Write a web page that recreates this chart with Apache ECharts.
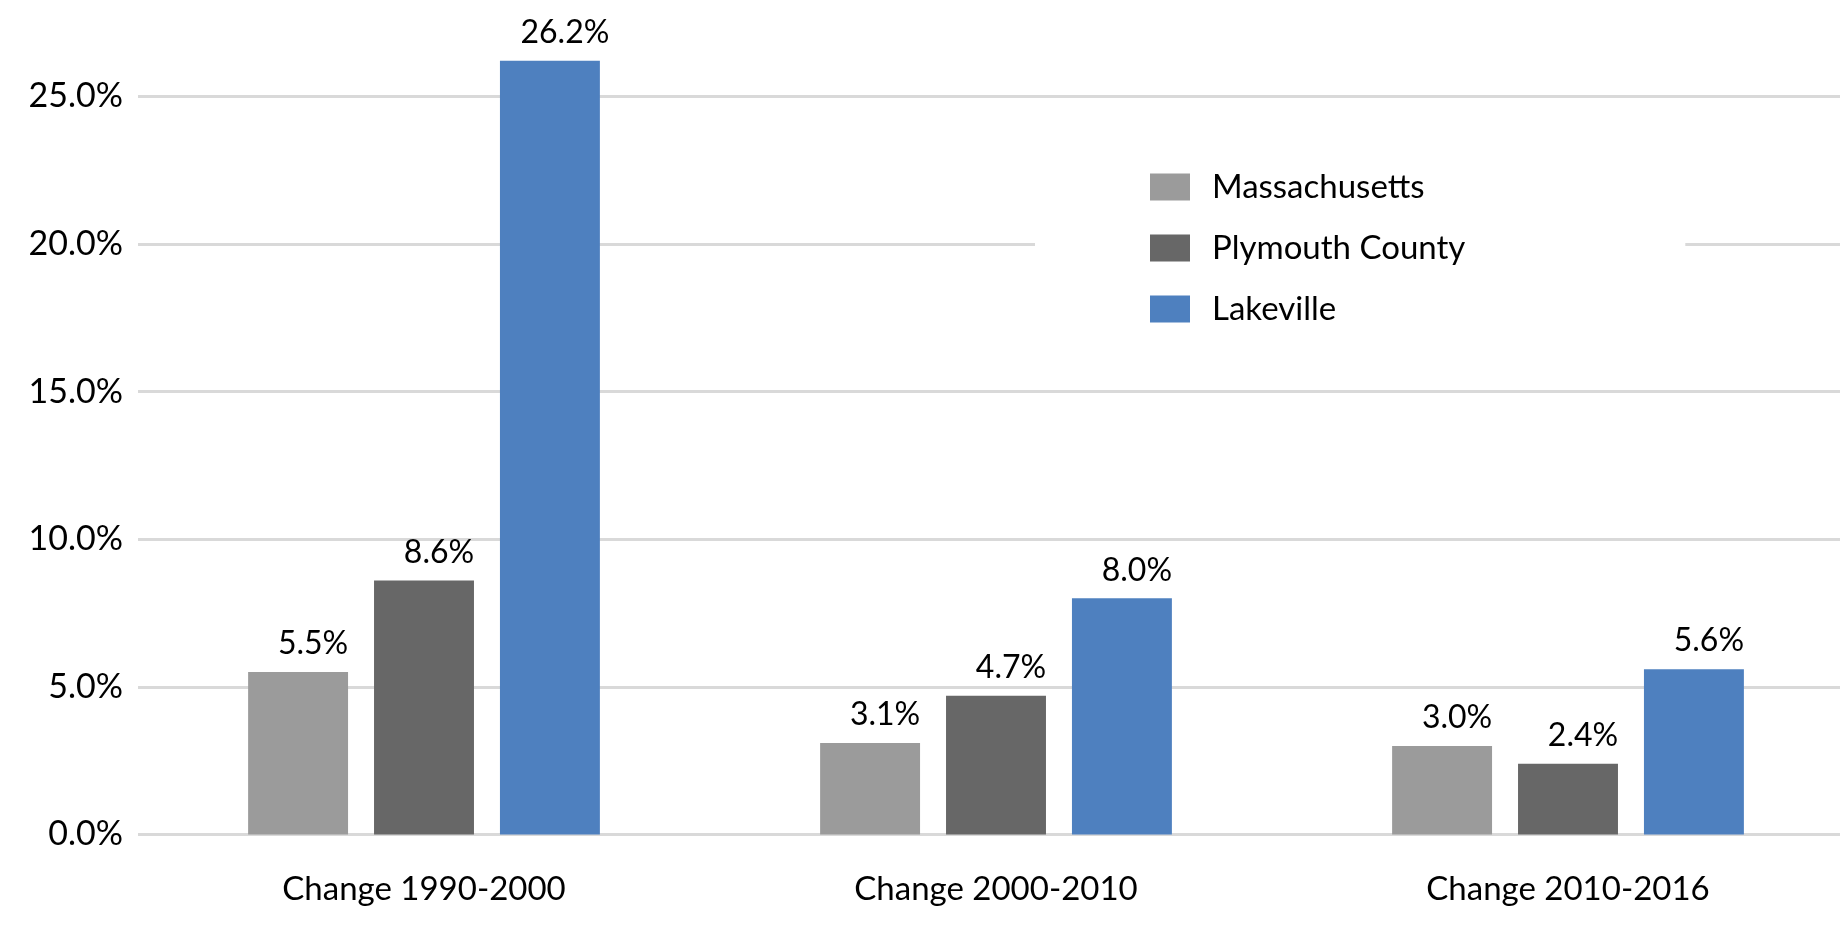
<!DOCTYPE html>
<html>
<head>
<meta charset="utf-8">
<title>Population change</title>
<script src="https://cdn.jsdelivr.net/npm/echarts@6/dist/echarts.min.js"></script>
<style>
	html, body {
		margin: 0;
		padding: 0;
		background: #fff;
	}
	#chart {
		width: 1840px;
		height: 930px;
	}
</style>
</head>
<body>
<div id="chart"></div>
<script>
	// categories and series (percent change)
	var categories = ['Change 1990-2000', 'Change 2000-2010', 'Change 2010-2016'];
	var massachusetts = [5.5, 3.1, 3.0];
	var plymouthCounty = [8.6, 4.7, 2.4];
	var lakeville = [26.2, 8.0, 5.6];
	var seriesNames = ['Massachusetts', 'Plymouth County', 'Lakeville'];
	var yTicks = [0, 5, 10, 15, 20, 25];

	var fontColor = '#000';
	var fontFamily = 'Lato';

	function barSeries(name, data) {
		return {
			name: name,
			type: 'bar',
			barGap: '26%',
			barCategoryGap: '38.5%',
			data: data,
			label: {
				show: true,
				position: 'top',
				distance: 12,
				offset: [15, 0],
				color: fontColor,
				fontFamily: fontFamily,
				fontSize: 32,
				formatter: function (p) {
					return p.value.toFixed(1) + '%';
				}
			}
		};
	}

	var myChart = echarts.init(document.getElementById('chart'));
	myChart.setOption({
		animation: false,
		color: ['#9b9b9b', '#676767', '#4e80bf'],
		textStyle: {
			fontFamily: fontFamily
		},
		grid: {
			left: 138,
			right: -14,
			top: 834.5 - 27 * 29.53,
			bottom: 930 - 834.5,
			outerBoundsMode: 'none'
		},
		legend: {
			orient: 'vertical',
			left: 1035,
			top: 127,
			backgroundColor: '#fff',
			padding: [40, 220, 40, 115],
			itemWidth: 40,
			itemHeight: 27,
			itemGap: 21,
			icon: 'rect',
			textStyle: {
				color: fontColor,
				fontSize: 33,
				lineHeight: 40,
				padding: [0, 0, 0, 17]
			},
			data: seriesNames
		},
		xAxis: {
			type: 'category',
			data: categories,
			axisLine: { show: false },
			axisTick: { show: false },
			axisLabel: {
				color: fontColor,
				fontSize: 33,
				margin: 38
			}
		},
		yAxis: {
			type: 'value',
			min: yTicks[0],
			max: 27,
			interval: yTicks[1] - yTicks[0],
			axisLine: { show: false },
			axisTick: { show: false },
			axisLabel: {
				color: fontColor,
				fontSize: 34,
				margin: 15,
				showMaxLabel: false,
				padding: [0, 0, 10, 0],
				formatter: function (v) {
					return yTicks.indexOf(v) >= 0 ? v.toFixed(1) + '%' : '';
				}
			},
			splitLine: {
				show: true,
				showMaxLine: false,
				lineStyle: {
					color: '#d9d9d9',
					width: 3
				}
			}
		},
		series: [
			barSeries(seriesNames[0], massachusetts),
			barSeries(seriesNames[1], plymouthCounty),
			barSeries(seriesNames[2], lakeville)
		]
	});
</script>
</body>
</html>
